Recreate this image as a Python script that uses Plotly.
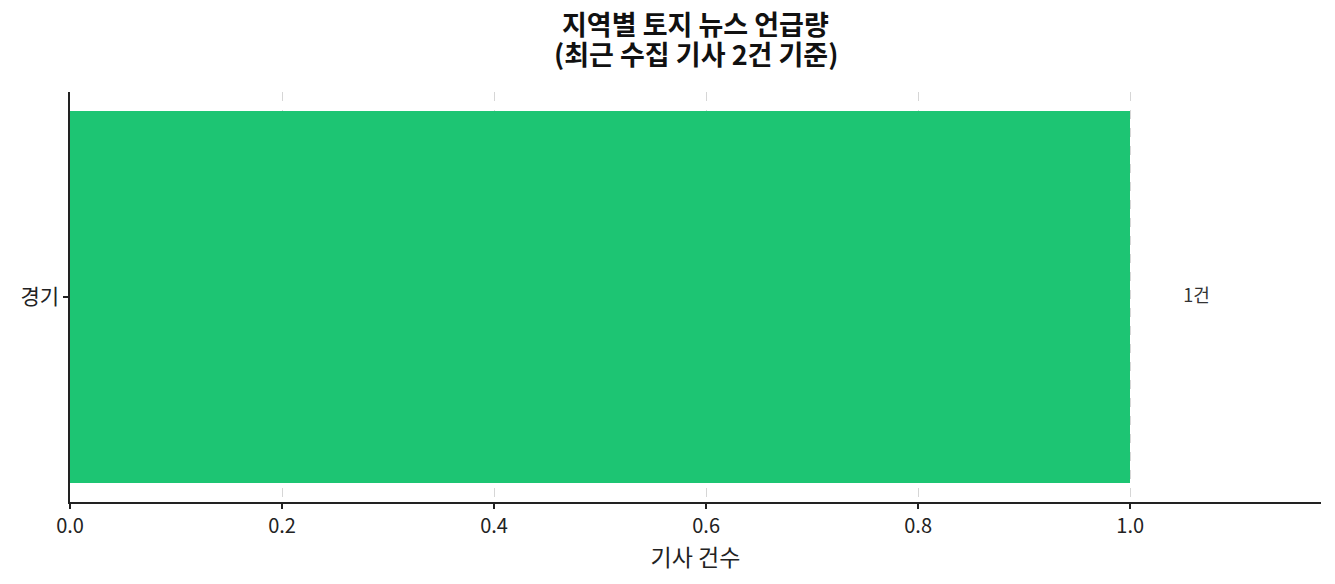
import plotly.graph_objects as go

# data
regions = ['경기']
counts = [1]
labels = ['{}건'.format(c) for c in counts]
x_ticks = [0.0, 0.2, 0.4, 0.6, 0.8, 1.0]
title_lines = ['지역별 토지 뉴스 언급량', '(최근 수집 기사 2건 기준)']

font = 'Noto Sans CJK KR'
bar_color = '#1dc573'
ink = '#222222'

fig = go.Figure()

fig.add_trace(go.Bar(
    x=counts, y=regions, orientation='h',
    width=0.8, marker=dict(color=bar_color, line=dict(width=0)),
    hoverinfo='skip'))

# value labels to the right of each bar
fig.add_trace(go.Scatter(
    x=[c + 0.05 for c in counts], y=regions,
    mode='text', text=labels, textposition='middle right',
    textfont=dict(family=font, size=18, color='#333333'),
    hoverinfo='skip'))

fig.update_xaxes(
    range=[0, max(counts) * 1.18],
    tickvals=x_ticks, ticktext=['{:.1f}'.format(t) for t in x_ticks],
    showline=True, linecolor=ink, linewidth=1.5,
    ticks='outside', ticklen=5, tickwidth=1.5, tickcolor=ink,
    showgrid=True, gridcolor='#d6d6d6', griddash='dash', gridwidth=1,
    zeroline=False,
    tickfont=dict(family=font, size=20, color=ink),
    title=dict(text='기사 건수', font=dict(family=font, size=23, color=ink),
               standoff=5))

fig.update_yaxes(
    range=[-0.44, 0.44],
    showline=True, linecolor=ink, linewidth=1.5,
    ticks='outside', ticklen=5, tickwidth=1.5, tickcolor=ink,
    showgrid=False, zeroline=False,
    tickfont=dict(family=font, size=21, color=ink))

# two-line bold title, placed as separate lines for matplotlib-like spacing
for line, yy in zip(title_lines, [1.168, 1.094]):
    fig.add_annotation(
        text='<b>{}</b>'.format(line), xref='paper', yref='paper',
        x=0.5, y=yy, xanchor='center', yanchor='middle', showarrow=False,
        font=dict(family=font, size=27, color='#111111'))

fig.update_layout(
    width=1335, height=584,
    margin=dict(l=62, r=22, t=84, b=90, autoexpand=False),
    plot_bgcolor='white', paper_bgcolor='white',
    showlegend=False, bargap=0)

fig.write_html('out.html')
